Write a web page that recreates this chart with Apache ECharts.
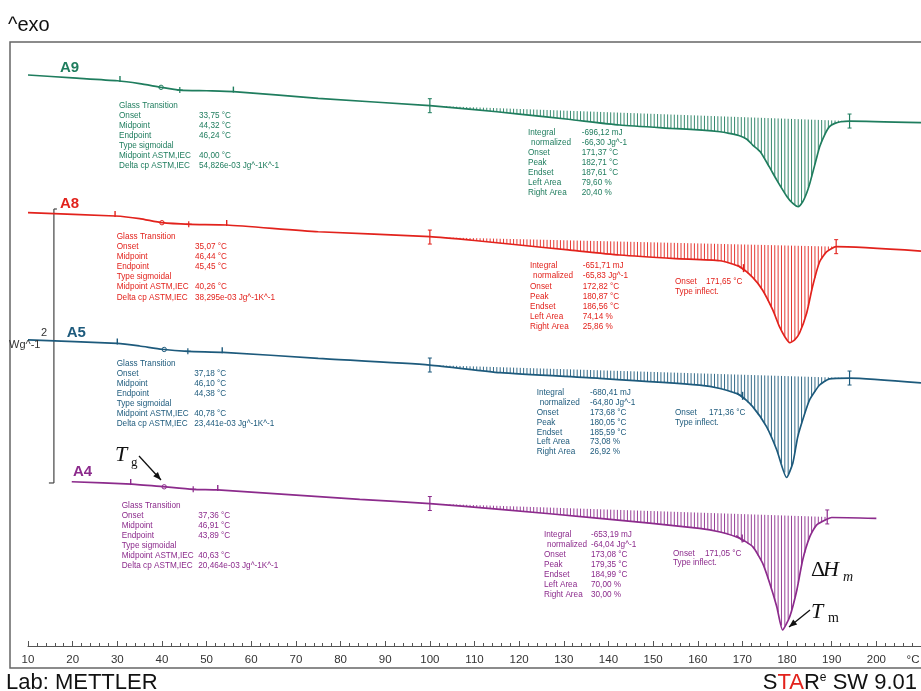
<!DOCTYPE html>
<html><head><meta charset="utf-8">
<script src="https://cdn.jsdelivr.net/npm/echarts@6/dist/echarts.min.js"></script>
<style>html,body{margin:0;padding:0;background:#fff}#c{width:921px;height:691px}</style>
</head><body><div id="c"></div>
<script>
// ---- data (temperature in °C, heat flow in W/g, exo up; curves offset) ----
const a9T = [10,20,30,35,40,44,50,56,75,100,110,120,131,142.5,154,161,165,167,169.5,171,172.3,174,176,177.7,180,181.3,182.5,183.5,184.4,185.1,186.6,187.3,188.4,189.5,190.7,192,194,210];
const a9V = [4.168,4.147,4.126,4.105,4.077,4.058,4.053,4.047,3.998,3.944,3.916,3.883,3.845,3.803,3.779,3.766,3.754,3.742,3.723,3.699,3.657,3.608,3.499,3.401,3.280,3.231,3.207,3.243,3.307,3.377,3.560,3.645,3.730,3.791,3.815,3.827,3.832,3.820];
const a8T = [10,29.5,35,40,46.3,54.5,75,100,110,120,131,142.5,155,165,169.4,172.3,174.5,176.8,178.3,179.5,180.6,181.7,182.8,184.4,185.7,187.3,188.9,191,210];
const a8V = [3.163,3.139,3.120,3.090,3.078,3.073,3.024,2.988,2.960,2.927,2.891,2.854,2.828,2.812,2.769,2.691,2.599,2.453,2.331,2.258,2.214,2.234,2.285,2.431,2.623,2.805,2.878,2.915,2.883];
const a5T = [10,30,35,40,45.8,53.7,75,100,115.7,138,160.4,165,169.4,172.3,175.4,177.7,179.9,181.3,182.4,184,185.1,187.3,189.5,194,210];
const a5V = [2.234,2.209,2.190,2.166,2.151,2.144,2.100,2.051,1.995,1.954,1.905,1.880,1.832,1.747,1.601,1.431,1.230,1.336,1.528,1.700,1.800,1.905,1.950,1.956,1.920];
const a4T = [19.8,33.2,40.2,46.9,52.5,84.3,100,115.7,138,160.4,165,169.4,172.3,174.5,176.1,177.7,179,180.6,182.2,183.5,185.1,186.6,188.9,190,200];
const a4V = [1.199,1.182,1.163,1.144,1.139,1.071,1.040,0.998,0.932,0.859,0.832,0.786,0.725,0.606,0.460,0.287,0.117,0.214,0.409,0.628,0.798,0.883,0.925,0.938,0.932];
// integration baselines [T, W/g]
const b9 = [[100,3.944],[194,3.832]];
const b8 = [[100,2.985],[191,2.915]];
const b5 = [[100,2.051],[194,1.956]];
const b4 = [[100,1.040],[189,0.942]];
// glass transition evaluation marks (limit, midpoint, endpoint, limit)
const g9 = [30.6,39.8,44,56];
const g8 = [29.5,40,46,54.5];
const g5 = [30,40.5,45.8,53.5];
const g4 = [33,40.5,47,52.5];
// inflection onset marks (°C), null = none
const onsetMarks = [null, 169.8, 169.6, 169.5];
// scale bar: 2 W/g
const scaleT = 15.8, scaleV = [1.19, 3.19];

const gtLabels = ['Glass Transition','Onset','Midpoint','Endpoint','Type sigmoidal','Midpoint ASTM,IEC','Delta cp ASTM,IEC'];
const gt9 = ['', '33,75 °C','44,32 °C','46,24 °C','', '40,00 °C','54,826e-03 Jg^-1K^-1'];
const gt8 = ['', '35,07 °C','46,44 °C','45,45 °C','', '40,26 °C','38,295e-03 Jg^-1K^-1'];
const gt5 = ['', '37,18 °C','46,10 °C','44,38 °C','', '40,78 °C','23,441e-03 Jg^-1K^-1'];
const gt4 = ['', '37,36 °C','46,91 °C','43,89 °C','', '40,63 °C','20,464e-03 Jg^-1K^-1'];
const pkLabels = ['Integral','normalized','Onset','Peak','Endset','Left Area','Right Area'];
const pk9 = ['-696,12 mJ','-66,30 Jg^-1','171,37 °C','182,71 °C','187,61 °C','79,60 %','20,40 %'];
const pk8 = ['-651,71 mJ','-65,83 Jg^-1','172,82 °C','180,87 °C','186,56 °C','74,14 %','25,86 %'];
const pk5 = ['-680,41 mJ','-64,80 Jg^-1','173,68 °C','180,05 °C','185,59 °C','73,08 %','26,92 %'];
const pk4 = ['-653,19 mJ','-64,04 Jg^-1','173,08 °C','179,35 °C','184,99 °C','70,00 %','30,00 %'];
const inf8 = '171,65 °C', inf5 = '171,36 °C', inf4 = '171,05 °C';

const C9='#1f7d5e', C8='#e2221c', C5='#1d5a7c', C4='#8c2b8c';
const curves = [
  {name:'A9',T:a9T,V:a9V,base:b9,g:g9,color:C9},
  {name:'A8',T:a8T,V:a8V,base:b8,g:g8,color:C8},
  {name:'A5',T:a5T,V:a5V,base:b5,g:g5,color:C5},
  {name:'A4',T:a4T,V:a4V,base:b4,g:g4,color:C4}
];
function interp(T,V,t){
  for(let i=0;i<T.length-1;i++){ if(t>=T[i]&&t<=T[i+1]){const f=(t-T[i])/(T[i+1]-T[i]);return V[i]+f*(V[i+1]-V[i]);} }
  return t<T[0]?V[0]:V[V.length-1];
}
const FF = '"Liberation Sans", Arial, sans-serif';
function L(x1,y1,x2,y2,color,w){return {type:'line',shape:{x1,y1,x2,y2},style:{stroke:color,lineWidth:w||1}};}

const lineSeries = curves.map(c=>({
  type:'line', name:c.name, data:c.T.map((t,i)=>[t,c.V[i]]), showSymbol:false, smooth:0.2,
  lineStyle:{color:c.color,width:1.7}, itemStyle:{color:c.color}, z:3, silent:true
}));

const deco = {
  type:'custom', z:2, silent:true, clip:false,
  data: curves.map((c,i)=>[i,0]),
  renderItem:(params,api)=>{
    const c = curves[params.dataIndex];
    const ch = [];
    const b0=c.base[0], b1=c.base[1];
    const bv = t=> b0[1]+(t-b0[0])/(b1[0]-b0[0])*(b1[1]-b0[1]);
    for(let t=b0[0]+0.75;t<b1[0]-0.3;t+=0.75){
      const cv = interp(c.T,c.V,t), v0=bv(t);
      if(cv < v0-0.004){
        const p=api.coord([t,v0]), q=api.coord([t,cv]);
        ch.push(L(p[0],p[1],q[0],q[1],c.color,0.9));
      }
    }
    // integration limit marks
    [b0,b1].forEach(b=>{
      const p=api.coord([b[0],b[1]]);
      ch.push(L(p[0],p[1]-7,p[0],p[1]+7,c.color,1.2));
      ch.push(L(p[0]-2,p[1]-7,p[0]+2,p[1]-7,c.color,1));
      ch.push(L(p[0]-2,p[1]+7,p[0]+2,p[1]+7,c.color,1));
    });
    // glass transition marks
    c.g.forEach((t,k)=>{
      const p=api.coord([t,interp(c.T,c.V,t)]);
      if(k===1){ ch.push({type:'circle',shape:{cx:p[0],cy:p[1],r:2.2},style:{fill:'#fff',stroke:c.color,lineWidth:1}}); }
      else if(k===2){ ch.push(L(p[0]-3,p[1],p[0]+3,p[1],c.color,1.2)); ch.push(L(p[0],p[1]-3,p[0],p[1]+3,c.color,1.2)); }
      else { ch.push(L(p[0],p[1]-5,p[0],p[1]+1,c.color,1.4)); }
    });
    // inflection onset mark
    const om = onsetMarks[params.dataIndex];
    if(om){
      const p=api.coord([om,interp(c.T,c.V,om)]);
      ch.push(L(p[0]-4,p[1]-3,p[0]+4,p[1]+3,c.color,1.6));
      ch.push(L(p[0]+2,p[1]-4,p[0]+2,p[1]+4,c.color,1.4));
    }
    if(params.dataIndex===0){
      const s0=api.coord([scaleT,scaleV[0]]), s1=api.coord([scaleT,scaleV[1]]);
      ch.push(L(s0[0],s0[1],s1[0],s1[1],'#444',1.2));
      ch.push(L(s0[0]-5,s0[1],s0[0],s0[1],'#444',1.2));
      ch.push(L(s1[0],s1[1],s1[0]+3,s1[1],'#444',1.2));
    }
    return {type:'group',children:ch};
  }
};

// ---- graphic annotations ----
const G = [];
function T(x,y,s,color,size,opt){
  opt=opt||{};
  G.push({type:'text',x,y,z:10,silent:true,style:Object.assign({text:s,fill:color,fontSize:size,fontFamily:opt.family||FF,fontWeight:opt.weight||'normal',fontStyle:opt.style||'normal',
    align:opt.align||'left',verticalAlign:'middle',textAlign:opt.align||'left',textVerticalAlign:'middle'},opt.extra||{})});
}
function block(x,xv,y,labels,vals,color,dy){
  labels.forEach((l,i)=>{ T(x+(l==='normalized'?3:0),y+i*dy,l,color,8.2); if(vals[i]) T(xv,y+i*dy,vals[i],color,8.2); });
}
block(119,199,105.3,gtLabels,gt9,C9,10);
block(116.7,195,236.7,gtLabels,gt8,C8,10.1);
block(116.7,194.3,363.3,gtLabels,gt5,C5,10);
block(121.7,198.3,506,gtLabels,gt4,C4,10);
block(528,581.7,132.7,pkLabels,pk9,C9,9.95);
block(530,582.7,266,pkLabels,pk8,C8,10.2);
block(536.7,590,392.7,pkLabels,pk5,C5,9.9);
block(544,591,535,pkLabels,pk4,C4,9.9);
block(675,706,281.5,['Onset','Type inflect.'],[inf8,''],C8,10);
block(675,709,412.7,['Onset','Type inflect.'],[inf5,''],C5,10);
block(673,705,554,['Onset','Type inflect.'],[inf4,''],C4,9);
// curve names
T(60,68,'A9',C9,15,{weight:'bold'});
T(60,204,'A8',C8,15,{weight:'bold'});
T(66.7,333.3,'A5',C5,15,{weight:'bold'});
T(73,471.7,'A4',C4,15,{weight:'bold'});
// scale label
T(47,333,'2','#333',11,{align:'right'});
T(9,345,'Wg^-1','#333',11);
// titles
T(8,25,'^exo','#111',20);
T(6,683,'Lab: METTLER','#111',22);
G.push({type:'text',x:917,y:683,z:10,silent:true,style:{text:'{k|S}{r|TA}{k|R}{e|e}{k| SW 9.01}',align:'right',verticalAlign:'middle',textAlign:'right',textVerticalAlign:'middle',
  rich:{k:{fill:'#111',fontSize:22,fontFamily:FF},r:{fill:'#e2221c',fontSize:22,fontFamily:FF},e:{fill:'#111',fontSize:12,fontFamily:FF,verticalAlign:'top'}}}});
T(913,660,'°C','#333',11.5,{align:'center'});
// Tg / Tm / ΔHm annotations
const SERIF='"Liberation Serif","Times New Roman",serif';
T(115,455,'T','#111',22,{family:SERIF,style:'italic'});
T(131,463,'g','#111',13,{family:SERIF});
T(811,570,'Δ','#111',22,{family:SERIF});
T(823,570,'H','#111',22,{family:SERIF,style:'italic'});
T(843,577,'m','#111',14,{family:SERIF,style:'italic'});
T(811,612,'T','#111',22,{family:SERIF,style:'italic'});
T(828,618,'m','#111',14,{family:SERIF});
function arrow(x1,y1,x2,y2){
  G.push({type:'line',z:10,silent:true,shape:{x1,y1,x2,y2},style:{stroke:'#111',lineWidth:1.3}});
  const a=Math.atan2(y2-y1,x2-x1), s=8, w=3.2;
  const bx=x2-s*Math.cos(a), by=y2-s*Math.sin(a);
  G.push({type:'polygon',z:10,silent:true,shape:{points:[[x2,y2],[bx+w*Math.sin(a),by-w*Math.cos(a)],[bx-w*Math.sin(a),by+w*Math.cos(a)]]},style:{fill:'#111'}});
}
arrow(139,456,161,480);
arrow(810,610,789,627);
// frame
G.push({type:'polyline',z:1,silent:true,shape:{points:[[921,42],[10,42],[10,668],[921,668]]},style:{stroke:'#666',lineWidth:1.5,fill:null}});

const option = {
  animation:false,
  backgroundColor:'#fff',
  grid:{left:28,right:0,top:42,bottom:45},
  xAxis:{type:'value',min:10,max:210,interval:10,
    axisLine:{lineStyle:{color:'#555',width:1}},
    axisTick:{inside:true,length:5,lineStyle:{color:'#555'}},
    minorTick:{show:true,splitNumber:5,length:3,lineStyle:{color:'#555'}},
    axisLabel:{showMaxLabel:false,margin:8,fontSize:11.5,color:'#333',fontFamily:FF},
    splitLine:{show:false}},
  yAxis:{type:'value',min:0,max:4.409,show:false},
  series:[deco].concat(lineSeries),
  graphic:G
};
const chart = echarts.init(document.getElementById('c'),null,{renderer:'canvas'});
chart.setOption(option);
</script></body></html>
